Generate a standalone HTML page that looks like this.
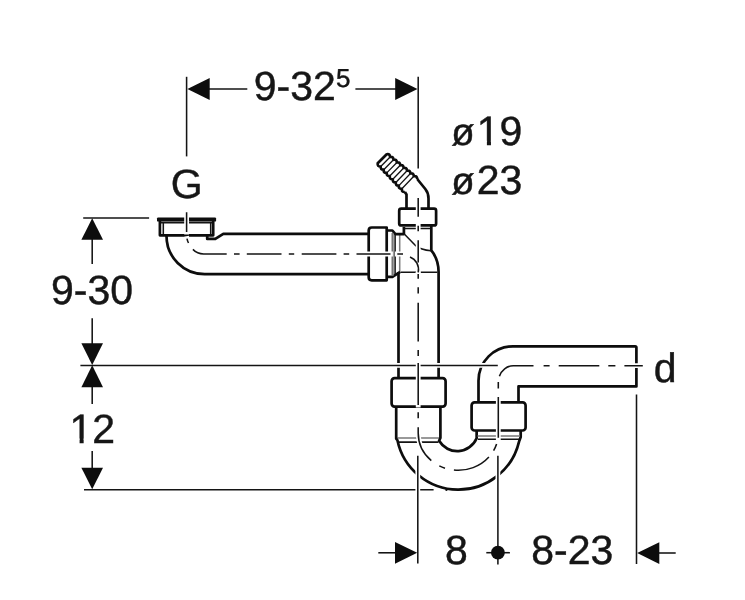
<!DOCTYPE html>
<html lang="en">
<head>
<meta charset="utf-8">
<title>Dimensional drawing</title>
<style>
html,body{margin:0;padding:0;background:#fff;}
body{width:745px;height:600px;overflow:hidden;position:relative;}
svg{position:absolute;left:0;top:0;display:block;will-change:transform;}
.k{fill:none;stroke:#0d0d0d;stroke-width:2.7;stroke-linejoin:round;stroke-linecap:butt;}
.n{fill:none;stroke:#141414;stroke-width:1.55;}
.r{fill:none;stroke:#141414;stroke-width:1.3;}
.g{fill:none;stroke:#757575;stroke-width:2.2;}
.g2{fill:none;stroke:#777;stroke-width:1.5;}
.h{fill:none;stroke:#fff;stroke-width:4.8;stroke-linecap:square;}
.a{fill:#0d0d0d;stroke:none;}
text{font-family:"Liberation Sans",sans-serif;font-size:41px;fill:#161616;stroke:#161616;stroke-width:.45px;text-rendering:geometricPrecision;}
.sup{font-size:26px;}
</style>
</head>
<body>
<svg width="745" height="600" viewBox="0 0 745 600">
<rect width="745" height="600" fill="#fff"/>

<!-- inlet nut G and horizontal pipe -->
<g id="inlet">
<rect x="157" y="217.4" width="59.1" height="4.2" rx="1.2" fill="#0d0d0d"/>
<path class="k" d="M159.9,221V235.3H213.2V221"/>
<path class="n" d="M163.3,222.5V234.5M210.7,222.5V234.5M161,222.6H212"/>
<path class="k" d="M166.5,235.5V236A38.1,38.1 0 0 0 204.6,274.1H368.7"/>
<path class="k" d="M207.2,235.5V238.9H215.3L223.3,233.8H368.7"/>
</g>

<!-- horizontal nut -->
<g id="hnut">
<path class="k" d="M371.7,227.5H386.7V280.3H371.7Q368.7,280.3 368.7,277.3V230.5Q368.7,227.5 371.7,227.5Z"/>
<path class="k" d="M387.5,230.5H392.4L395.4,234.1H403.9V227"/>
<path class="k" d="M387.5,276.9H392.4L400.2,271.8"/>
<path class="g" d="M392.6,233V276"/>
<path class="n" d="M395.1,234.5V274.5"/>
<path class="n" stroke-opacity=".55" d="M399.7,235V271.5"/>
</g>

<!-- tee and hose nozzle -->
<g id="tee">
<rect class="k" x="399.2" y="208.7" width="36.9" height="16.7" rx="2"/>
<path class="n" d="M404.4,228.5H430.7"/>
<path class="k" d="M431.3,226V250.4C435,255 438.6,262 438.6,272V378"/>
<path class="k" d="M398.5,272V378"/>
<path class="n" d="M404.5,234.3L415.7,245.7C419,248.5 424,250.3 431,250.8"/>
<path class="n" d="M400.5,272.2H437.5"/>
<path class="k" d="M404.9,192L406.5,194.5V208"/>
<path class="k" d="M417.2,179L425.3,189C427.7,192 428.5,195 428.5,198.5V208"/>
<path class="k" d="M404.9,192Q401.43,192.26 401.88,188.81Q398.41,189.07 398.86,185.62Q395.38,185.89 395.83,182.43Q392.36,182.7 392.81,179.24Q389.34,179.51 389.79,176.06Q386.32,176.32 386.77,172.87Q383.3,173.13 383.74,169.68Q380.27,169.94 380.72,166.49Q377.25,166.75 377.7,163.3L386.7,154.3Q390.09,153.57 390.09,157.04Q393.48,156.32 393.48,159.79Q396.87,159.06 396.87,162.53Q400.26,161.81 400.26,165.28Q403.65,164.55 403.64,168.02Q407.04,167.3 407.03,170.77Q410.43,170.04 410.42,173.51Q413.82,172.79 413.81,176.26Q417.2,175.53 417.2,179"/>
<path class="r" d="M390.09,157.04 L380.72,166.49M393.48,159.79 L383.74,169.68M396.87,162.53 L386.77,172.87M400.26,165.28 L389.79,176.06M403.64,168.02 L392.81,179.24M407.03,170.77 L395.83,182.43M410.42,173.51 L398.86,185.62M413.81,176.26 L401.88,188.81"/>
</g>

<!-- trap -->
<g id="trap">
<rect class="k" x="391.6" y="378.2" width="54" height="28.4" rx="3"/>
<path class="g2" d="M397.5,437.9H439"/>
<path class="n" d="M398.9,442.1H438.5"/>
<path class="k" d="M396.2,407V438.6L397.43,440.2A62.3,62.3 0 0 0 519.06,441.6L520.7,437V431"/>
<path class="k" d="M440.4,407V438L439.07,440.8A21.1,21.1 0 0 0 476.64,438.2V431"/>
<rect class="k" x="471.6" y="402.4" width="54" height="28.1" rx="3"/>
<path class="g2" d="M477.5,436H520"/>
<path class="n" d="M478,439.3H519"/>
<path class="k" d="M478.5,402V380.8A34.5,34.5 0 0 1 513,346.3H635.1Q636.4,346.3 636.4,347.6V386.4H518.5V402"/>
<circle cx="446.4" cy="489.9" r="1.1" fill="#0d0d0d"/>
</g>

<!-- dimension / centre lines: each with a white knock-out underneath -->
<g id="lines-h">
<path class="h" d="M209,89H247.3"/>
<path class="h" d="M355.4,89H396"/>
<path class="h" d="M83.2,218H149.1"/>
<path class="h" d="M80.4,365.4H497.8"/>
<path class="h" d="M84,489.7H433.6"/>
<path class="h" d="M378.3,552.8H396"/>
<path class="h" d="M486.3,552.7H509.9"/>
<path class="h" d="M658.5,553H675.7"/>
<path class="h" d="M192.9,249.4A15,15 0 0 0 203.6,254H226.7M234,254H239.6M246.8,254H281.5M288.8,254H294.2M301.7,254H336.4M343.6,254H349.2M356.5,254H390.5M397.3,254H403"/>
<path class="h" d="M499.4,376.3A15,15 0 0 1 513.3,365.7H533.5M543.6,365.7H549.6M558.7,365.7H599.3M608.3,365.7H615.4M624.4,365.7H642.8"/>
<path class="n" d="M209,89H247.3"/>
<path class="n" d="M355.4,89H396"/>
<path class="n" d="M83.2,218H149.1"/>
<path class="n" d="M80.4,365.4H497.8"/>
<path class="n" d="M84,489.7H433.6"/>
<path class="n" d="M378.3,552.8H396"/>
<path class="n" d="M486.3,552.7H509.9"/>
<path class="n" d="M658.5,553H675.7"/>
<path class="n" d="M192.9,249.4A15,15 0 0 0 203.6,254H226.7M234,254H239.6M246.8,254H281.5M288.8,254H294.2M301.7,254H336.4M343.6,254H349.2M356.5,254H390.5M397.3,254H403"/>
<path class="n" d="M499.4,376.3A15,15 0 0 1 513.3,365.7H533.5M543.6,365.7H549.6M558.7,365.7H599.3M608.3,365.7H615.4M624.4,365.7H642.8"/>
</g>
<g id="lines-v">
<path class="h" d="M186.6,76.8V156.4"/>
<path class="h" d="M418.2,76.8V168.6"/>
<path class="h" d="M92.2,239V264"/>
<path class="h" d="M92.2,318.3V344"/>
<path class="h" d="M92.2,386.5V404"/>
<path class="h" d="M92.2,451.1V468.4"/>
<path class="h" d="M417.8,455.7V563.6"/>
<path class="h" d="M497.9,455.7V564.4"/>
<path class="h" d="M636.5,394.5V564"/>
<path class="h" d="M186.6,212.3V232M187,238.6A17,17 0 0 0 188.5,243"/>
<path class="h" d="M418.2,198V216.8M418.2,225.7V231.3M418.2,240.3V262.6M418.2,274.1V278.8M418.2,287.3V293.4M418.2,302.8V341.5M418.2,349.9V356M418.2,363V405M418.2,412.2V418.3M418.2,427.3V432.9"/>
<path class="h" d="M418.2,432.9 A40.1,37.4 0 0 0 431.3,460.55"/>
<path class="h" d="M439.3,465.84 A40.1,37.4 0 0 0 445,468.18"/>
<path class="h" d="M453.9,470.07 A40.1,37.4 0 0 0 488.9,457.07"/>
<path class="h" d="M493.6,450.64 A40.1,37.4 0 0 0 496.6,443.98"/>
<path class="h" d="M498.3,437.8V397M498.3,388.6V382"/>
<path class="h" d="M410,257A13.5,13.5 0 0 1 418.2,272.4"/>
<path class="n" d="M186.6,76.8V156.4"/>
<path class="n" d="M418.2,76.8V168.6"/>
<path class="n" d="M92.2,239V264"/>
<path class="n" d="M92.2,318.3V344"/>
<path class="n" d="M92.2,386.5V404"/>
<path class="n" d="M92.2,451.1V468.4"/>
<path class="n" d="M417.8,455.7V563.6"/>
<path class="n" d="M497.9,455.7V564.4"/>
<path class="n" d="M636.5,394.5V564"/>
<path class="n" d="M186.6,212.3V232M187,238.6A17,17 0 0 0 188.5,243"/>
<path class="n" d="M418.2,198V216.8M418.2,225.7V231.3M418.2,240.3V262.6M418.2,274.1V278.8M418.2,287.3V293.4M418.2,302.8V341.5M418.2,349.9V356M418.2,363V405M418.2,412.2V418.3M418.2,427.3V432.9"/>
<path class="n" d="M418.2,432.9 A40.1,37.4 0 0 0 431.3,460.55"/>
<path class="n" d="M439.3,465.84 A40.1,37.4 0 0 0 445,468.18"/>
<path class="n" d="M453.9,470.07 A40.1,37.4 0 0 0 488.9,457.07"/>
<path class="n" d="M493.6,450.64 A40.1,37.4 0 0 0 496.6,443.98"/>
<path class="n" d="M498.3,437.8V397M498.3,388.6V382"/>
<path class="n" d="M410,257A13.5,13.5 0 0 1 418.2,272.4"/>
</g>

<!-- arrow heads -->
<g id="arrows">
<polygon class="a" points="187.4,89 209.7,78 209.7,100"/>
<polygon class="a" points="417.5,89 395.2,78 395.2,100"/>
<polygon class="a" points="92.2,218.3 81.4,239.8 103,239.8"/>
<polygon class="a" points="92.2,365.1 81.4,343.3 103,343.3"/>
<polygon class="a" points="92.2,365.3 81.4,387.2 103,387.2"/>
<polygon class="a" points="92.2,489.2 81.4,467.7 103,467.7"/>
<polygon class="a" points="417.2,552.8 395,542 395,563.8"/>
<polygon class="a" points="637.2,553 659.3,542.2 659.3,564"/>
<circle class="a" cx="497.9" cy="552.7" r="6.9"/>
</g>

<!-- labels -->
<g id="labels">
<text x="253.8" y="99.6">9-32<tspan class="sup" dy="-13" dx="0.2">5</tspan></text>
<text y="144.9"><tspan x="451.2" font-size="38.2">ø</tspan><tspan x="476.8">19</tspan></text>
<text y="193.6"><tspan x="451.2" font-size="38.2">ø</tspan><tspan x="476.8">23</tspan></text>
<text x="170.8" y="198">G</text>
<text x="51" y="303.9">9-30</text>
<text x="69.5" y="442.7">12</text>
<text x="444.9" y="564">8</text>
<text x="531.2" y="564.1">8-23</text>
<text x="653.8" y="381.8">d</text>
<rect x="478.62" y="140.74" width="8.27" height="6.56" fill="#fff"/><rect x="490.95" y="140.74" width="7.95" height="6.56" fill="#fff"/>
<rect x="71.32" y="438.54" width="8.27" height="6.56" fill="#fff"/><rect x="83.65" y="438.54" width="7.95" height="6.56" fill="#fff"/>
</g>
</svg>
</body>
</html>
